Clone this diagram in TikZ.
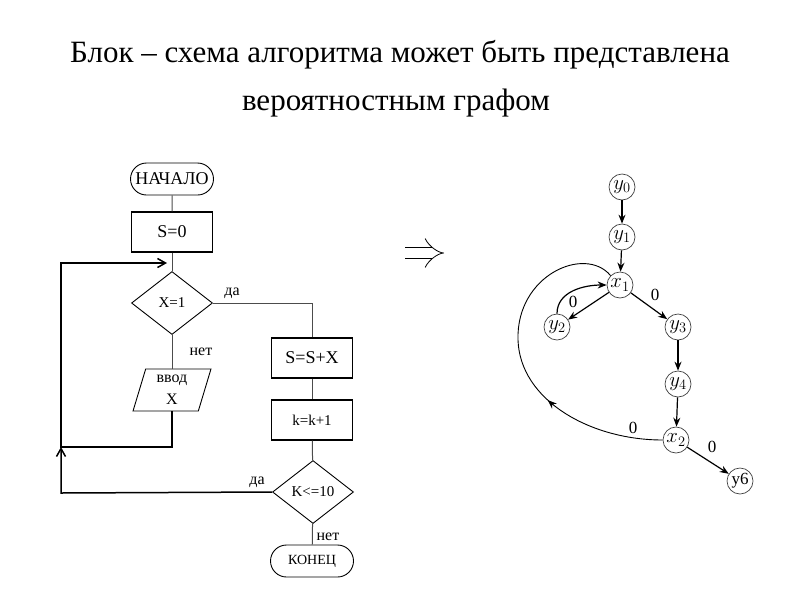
\documentclass[tikz,border=0pt]{standalone}
\usepackage{fontspec}
\setmainfont{Liberation Serif}
\usetikzlibrary{shapes.geometric,shapes.misc,arrows.meta,decorations.markings}

\begin{document}
\begin{tikzpicture}[x=1pt, y=-1pt,
		box/.style = {draw, line width=1.4pt, minimum width=81, minimum height=40, inner sep=0pt, font=\fontsize{18}{18}\selectfont},
		term/.style = {draw, line width=0.9pt, rounded rectangle, minimum width=83, minimum height=32, inner sep=0pt},
		cond/.style = {draw, line width=0.9pt, diamond, minimum width=81, minimum height=63, inner sep=0pt, font=\fontsize{15}{15}\selectfont},
		io/.style = {draw, line width=0.9pt, trapezium, trapezium left angle=76, trapezium right angle=104, trapezium stretches=true, minimum width=78, minimum height=42, inner sep=0pt, font=\fontsize{16}{22}\selectfont},
		flow/.style = {line width=1pt, black!70},
		back/.style = {line width=1.5pt, -{Straight Barb[length=8pt, width=9pt]}},
		lab/.style = {font=\fontsize{16}{16}\selectfont},
		vert/.style = {draw, line width=0.7pt, black!75, text=black, circle, minimum size=26, inner sep=0pt, font=\fontsize{21}{21}\selectfont},
		edge/.style = {line width=1.2pt, -{Stealth[length=9pt, width=7pt]}},
		zero/.style = {font=\fontsize{17}{17}\selectfont}]
	\useasboundingbox (0,0) rectangle (800,600);
	% heading
	\node[font=\fontsize{31}{31}\selectfont] (title) at (400,55) {Блок – схема алгоритма может быть представлена};
	\node[font=\fontsize{31}{31}\selectfont] (subtitle) at (396,103) {вероятностным графом};
	% flowchart
	\node[term, font=\fontsize{18}{18}\selectfont] (start) at (172,179) {НАЧАЛО};
	\node[box] (init) at (172,232) {S=0};
	\node[cond] (test) at (172,303) {X=1};
	\node[io, align=center] (input) at (172,390) {ввод\\X};
	\node[box] (sum) at (312,358) {S=S+X};
	\node[box, font=\fontsize{15}{15}\selectfont] (inc) at (312,420) {k=k+1};
	\node[cond] (check) at (313,492) {K<=10};
	\node[term, font=\fontsize{14}{14}\selectfont] (stop) at (312,561) {КОНЕЦ};
	\coordinate (top) at (61,263);
	\coordinate (mid) at (61,447);
	\coordinate (low) at (61,493);
	\draw[flow] (start) -- (init);
	\draw[flow] (init) -- (test);
	\draw[flow] (test) -- (input);
	\draw[flow] (test.east) -| (sum.north);
	\draw[flow] (sum) -- (inc);
	\draw[flow] (inc) -- (check);
	\draw[flow] (check) -- (stop);
	\draw[back] (check.west) -- (low) -- (mid);
	\draw[back] (input.south) |- (mid) -- (top) -- ([xshift=-5]init.south |- top);
	\node[lab] (yes1) at (232,293) {да};
	\node[lab] (no1) at (201,352) {нет};
	\node[lab] (yes2) at (257,482) {да};
	\node[lab] (no2) at (328,537) {нет};
	% implication
	\draw[line width=0.8pt, double, double distance=10pt, -{Implies}] (405,253) -- (444,253);
	% probabilistic graph
	\node[vert] (y0) at (622,187) {$y_0$};
	\node[vert] (y1) at (622,237) {$y_1$};
	\node[vert] (x1) at (620,285) {$x_1$};
	\node[vert] (y2) at (557,327) {$y_2$};
	\node[vert] (y3) at (678,327) {$y_3$};
	\node[vert] (y4) at (678,384) {$y_4$};
	\node[vert] (x2) at (676,440) {$x_2$};
	\node[vert, font=\fontsize{17}{17}\selectfont] (y6) at (740,481) {y6};
	\draw[edge] (y0) -- (y1);
	\draw[edge] (y1) -- (x1);
	\draw[edge] (x1) -- (y2);
	\draw[edge] (x1) -- (y3);
	\draw[edge] (y3) -- (y4);
	\draw[edge] (y4) -- (x2);
	\draw[edge] (x2) -- (y6);
	\draw[edge] (y2.north) to[out=90, in=180] (x1.west);
	\draw[line width=0.9pt, postaction={decorate}, decoration={markings, mark=at position 0.37 with {\arrow{Stealth[length=9pt, width=7pt]}}}]
		(x2.west) .. controls (590,440) and (520,400) .. (518,340)
		.. controls (516,275) and (585,245) .. (x1.north west);
	\node[zero] (z1) at (573,302) {0};
	\node[zero] (z2) at (655,295) {0};
	\node[zero] (z3) at (633,428) {0};
	\node[zero] (z4) at (712,447) {0};
\end{tikzpicture}
\end{document}
